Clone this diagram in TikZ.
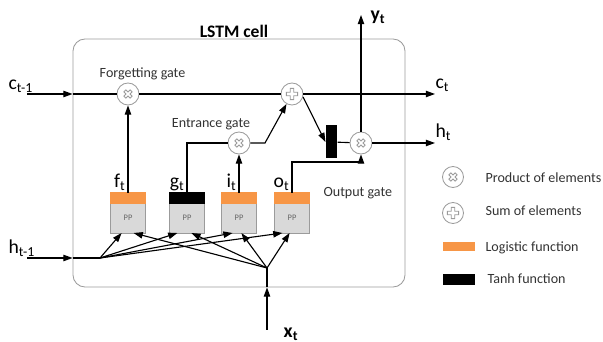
\documentclass[tikz,border=0pt]{standalone}
\usepackage{fontspec}
\setmainfont{Carlito}
\usetikzlibrary{positioning,arrows.meta}

\definecolor{sigorange}{RGB}{247,150,70}
\definecolor{ppgray}{RGB}{217,217,217}
\definecolor{edgegray}{RGB}{155,155,155}

\tikzset{
	opnode/.style={circle, draw=edgegray, line width=0.6pt, fill=white, minimum size=0.55cm, inner sep=0pt},
	% hollow plus
	sumop/.style={opnode, path picture={
		\draw[edgegray, line width=0.6pt, shift={(path picture bounding box.center)}] (45:0.064)
			\foreach \b in {0, -90, -180, -270}{ -- ({\b+18}:0.147) -- ({\b-18}:0.147) -- ({\b-45}:0.064) } -- cycle;
		}},
	% hollow cross
	prodop/.style={opnode, path picture={
		\draw[edgegray, line width=0.6pt, shift={(path picture bounding box.center)}] (90:0.05)
			\foreach \b in {45, -45, -135, -225}{ -- ({\b+18}:0.115) -- ({\b-18}:0.115) -- ({\b-45}:0.05) } -- cycle;
		}},
	cellbox/.style={draw=edgegray, line width=0.6pt, rounded corners=0.3cm, minimum width=8.3cm, minimum height=6.2cm},
	ppbox/.style={draw=edgegray, line width=0.6pt, fill=ppgray, minimum width=0.875cm, minimum height=0.75cm,
		inner sep=0pt, outer sep=0pt, text=black!60, font=\fontsize{6}{7}\selectfont},
	gatebar/.style={minimum width=0.875cm, minimum height=0.25cm, inner sep=0pt, outer sep=0pt},
	legbar/.style={minimum width=0.8cm, minimum height=0.225cm, inner sep=0pt},
	iolbl/.style={inner sep=0pt, font=\fontsize{14}{16}\selectfont},
	gatetxt/.style={text=black!80, font=\fontsize{10}{12}\selectfont},
	legtxt/.style={anchor=west, inner sep=0pt, text=black!80, font=\fontsize{10}{12}\selectfont},
}

\begin{document}
\begin{tikzpicture}[thick, >={Triangle[length=2.3mm,width=1.6mm]}]
		\useasboundingbox (0, 0) rectangle (15.075, 8.55);

		% cell frame
		\node[cellbox] (cell) at (5.975, 4.475) {};
		\node[font=\fontsize{12.5}{14}\selectfont\bfseries] (title) at (5.85, 7.775) {LSTM cell};

		% gate boxes
		\foreach \g/\x/\c in {f/3.2/sigorange, g/4.675/black, i/5.975/sigorange, o/7.3/sigorange}{
				\node[ppbox] (\g) at (\x, 3.1) {PP};
				\node[gatebar, fill=\c, draw=\c, above=0pt of \g] (\g-top) {};
				\node[iolbl, anchor=south east] (\g-lbl) at ([xshift=-0.05cm, yshift=1pt]\g-top.north) {\g\textsubscript{t}};
			}

		% operations
		\node[prodop] (fgate) at (3.2, 6.2) {};
		\node[sumop] (plus) at (7.3, 6.2) {};
		\node[prodop] (egate) at (5.975, 4.975) {};
		\node[prodop] (oprod) at (9.025, 4.975) {};
		\node[fill=black, minimum width=0.275cm, minimum height=0.825cm, inner sep=0pt] (tanh) at (8.2875, 5.0) {};

		\node[gatetxt] (fgtxt) at (3.5625, 6.7) {Forgetting gate};
		\node[gatetxt] (egtxt) at (5.275, 5.45) {Entrance gate};
		\node[gatetxt, anchor=west, inner sep=0pt] (ogtxt) at (8.075, 3.725) {Output gate};

		\coordinate (cin) at (0.675, 6.2);
		\coordinate (cout) at (10.875, 6.2);
		\coordinate (hin) at (0.675, 2.1);
		\coordinate (hout) at (10.875, 4.975);
		\coordinate (hfan) at (2.5, 2.1);
		\coordinate (xin) at (6.675, 0.3);
		\coordinate (xfan) at (6.675, 1.85);
		\coordinate (yout) at (9.025, 8.175);
		\coordinate (ekink) at (6.625, 4.975);
		\coordinate (okink) at (9.025, 4.5);

		% cell state
		\draw[->] (cin) -- (cin -| cell.west);
		\draw (cin -| cell.west) -- (fgate) -- (plus);
		\draw[->] (plus) -- (cout);
		\draw[->] (f-top) -- (fgate);
		\draw (g-top) |- (egate);
		\draw[->] (i-top) -- (egate);
		\draw[->] (egate) -- (ekink) -- (plus);

		% output
		\draw[->] (plus.-15) -- (tanh.west);
		\draw (tanh) -- (oprod);
		\draw[->] (oprod) -- (hout);
		\draw[->] (oprod) -- (yout);
		\draw[->] (o-top) |- (okink) -- (oprod);

		% inputs
		\draw[->] (hin) -- (hin -| cell.west);
		\draw (hin -| cell.west) -- (hfan);
		\draw[->] (xin) -- (xin |- cell.south);
		\draw (xin |- cell.south) -- (xfan);
		\foreach \g/\dh/\dx in {f/-0.16/0.14, g/-0.24/0.11, i/-0.16/0.06, o/-0.24/-0.06}{
				\draw[->] (hfan) -- ([xshift=\dh cm]\g.south);
				\draw[->] (xfan) -- ([xshift=\dx cm]\g.south);
			}

		\node[iolbl, anchor=south west] (cinlbl) at (0.2, 6.23) {c\textsubscript{t-1}};
		\node[iolbl, anchor=south west] (coutlbl) at ([yshift=1.5pt]cout) {c\textsubscript{t}};
		\node[iolbl, anchor=south west] (hinlbl) at (0.2, 2.13) {h\textsubscript{t-1}};
		\node[iolbl, anchor=south west] (houtlbl) at ([yshift=1.5pt]hout) {h\textsubscript{t}};
		\node[iolbl] (ylbl) at (9.45, 8.125) {\textbf{y\textsubscript{t}}};
		\node[iolbl] (xlbl) at (7.275, 0.2) {\textbf{x\textsubscript{t}}};

		% legend
		\node[prodop, minimum size=0.525cm] (legprod) at (11.325, 4.125) {};
		\node[legtxt] (legprodtxt) at (12.125, 4.1) {Product of elements};
		\node[sumop, minimum size=0.525cm] (legsum) at (11.325, 3.225) {};
		\node[legtxt] (legsumtxt) at (12.125, 3.275) {Sum of elements};
		\node[legbar, fill=sigorange] (legsig) at (11.475, 2.3875) {};
		\node[legtxt] (legsigtxt) at (12.125, 2.35) {Logistic function};
		\node[legbar, fill=black, minimum height=0.275cm] (legtanh) at (11.475, 1.5625) {};
		\node[legtxt] (legtanhtxt) at (12.175, 1.575) {Tanh function};
	\end{tikzpicture}
\end{document}
